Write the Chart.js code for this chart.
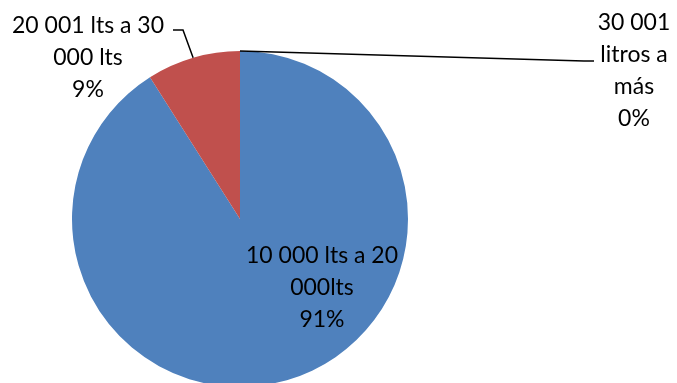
<!DOCTYPE html>
<html>
<head>
<meta charset="utf-8">
<script src="https://cdn.jsdelivr.net/npm/chart.js@4.4.1/dist/chart.umd.min.js"></script>
<style>
  html, body { margin: 0; padding: 0; background: #fff; overflow: hidden; }
  #wrap { width: 677px; height: 400px; position: relative; }
</style>
</head>
<body>
<div id="wrap"><canvas id="pieChart"></canvas></div>
<script>
const categories = ['10 000 lts a 20 000lts', '20 001 lts a 30 000 lts', '30 001 litros a más'];
const values = [91, 9, 0];
const sliceColors = ['#4F81BD', '#C0504D', '#9BBB59'];

// label text split the way Excel wrapped it
const labelLines = [
    ['10 000 lts a 20', '000lts', '91%'],
    ['20 001 lts a 30', '000 lts', '9%'],
    ['30 001', 'litros a', 'más', '0%']
];

const FONT = '23px Lato, "Open Sans", sans-serif';
const LINE_H = 32;

const pieLabels = {
    id: 'pieLabels',
    afterDatasetsDraw(chart) {
        const ctx = chart.ctx;
        const arcs = chart.getDatasetMeta(0).data;
        const a0 = arcs[0];
        const cx = a0.x, cy = a0.y, r = a0.outerRadius;

        ctx.save();
        ctx.font = FONT;
        ctx.fillStyle = '#000';
        ctx.textAlign = 'center';
        ctx.textBaseline = 'middle';

        // inside label for the big slice
        drawLines(ctx, labelLines[0], cx + 82, cy + 37);

        // leader lines
        ctx.strokeStyle = '#000';
        ctx.lineWidth = 1.5;

        const mid1 = (arcs[1].startAngle + arcs[1].endAngle) / 2;
        const p1 = { x: cx + r * Math.cos(mid1), y: cy + r * Math.sin(mid1) };
        ctx.beginPath();
        ctx.moveTo(p1.x, p1.y);
        ctx.lineTo(183, 30);
        ctx.lineTo(173, 30);
        ctx.stroke();
        drawLines(ctx, labelLines[1], 88, 26);

        const mid2 = (arcs[2].startAngle + arcs[2].endAngle) / 2;
        const p2 = { x: cx + r * Math.cos(mid2), y: cy + r * Math.sin(mid2) };
        ctx.beginPath();
        ctx.moveTo(p2.x, p2.y);
        ctx.lineTo(584, 61);
        ctx.lineTo(594, 61);
        ctx.stroke();
        drawLines(ctx, labelLines[2], 634, 23);

        ctx.restore();
    }
};

function drawLines(ctx, lines, x, y) {
    lines.forEach((t, i) => ctx.fillText(t, x, y + i * LINE_H));
}

new Chart(document.getElementById('pieChart'), {
    type: 'pie',
    data: {
        labels: categories,
        datasets: [{
            data: values,
            backgroundColor: sliceColors,
            borderWidth: 0
        }]
    },
    options: {
        responsive: true,
        maintainAspectRatio: false,
        animation: false,
        layout: { padding: { left: 72, right: 269, top: 51, bottom: 13 } },
        plugins: {
            legend: { display: false },
            tooltip: { enabled: false }
        }
    },
    plugins: [pieLabels]
});
</script>
</body>
</html>
